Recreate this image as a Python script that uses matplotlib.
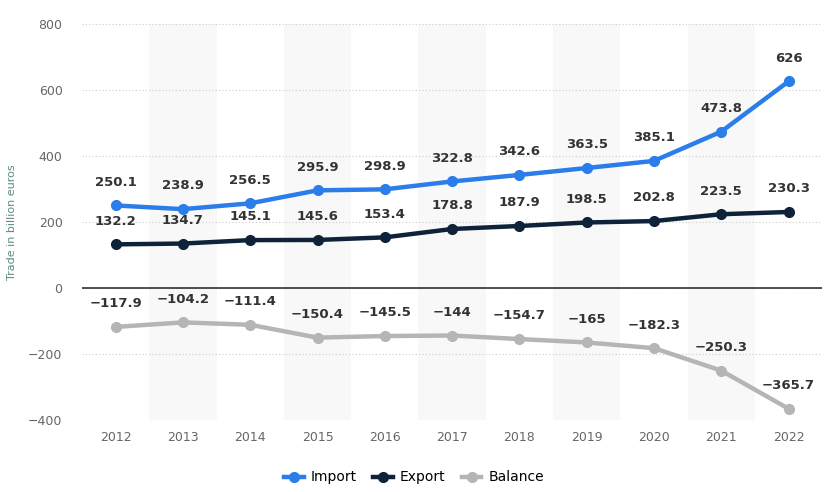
import matplotlib.pyplot as plt
from matplotlib.lines import Line2D

years = [2012, 2013, 2014, 2015, 2016, 2017, 2018, 2019, 2020, 2021, 2022]
imports = [250.1, 238.9, 256.5, 295.9, 298.9, 322.8, 342.6, 363.5, 385.1, 473.8, 626]
exports = [132.2, 134.7, 145.1, 145.6, 153.4, 178.8, 187.9, 198.5, 202.8, 223.5, 230.3]
balance = [-117.9, -104.2, -111.4, -150.4, -145.5, -144, -154.7, -165, -182.3, -250.3, -365.7]

c_imp = '#2b7de9'
c_exp = '#0e2239'
c_bal = '#b5b5b5'


def fmt(v):
    s = ('%g' % abs(v))
    return ('\u2212' + s) if v < 0 else s


fig = plt.figure(figsize=(8.28, 4.92), dpi=100)
ax = fig.add_axes([0.099, 0.1463, 0.894, 0.805])

# alternating column bands
for i, y in enumerate(years):
    if i % 2 == 1:
        ax.axvspan(y - 0.5, y + 0.5, color='#f8f8f8', zorder=0, lw=0)

ax.set_xlim(2011.5, 2022.5)
ax.set_ylim(-400, 800)
ax.set_yticks([-400, -200, 0, 200, 400, 600, 800])
ax.set_yticklabels([fmt(t) for t in [-400, -200, 0, 200, 400, 600, 800]])
ax.set_xticks(years)
ax.grid(axis='y', linestyle=(0, (1, 2)), color='#cccccc', lw=0.8, zorder=1)
ax.axhline(0, color='#333333', lw=1.2, zorder=2)
for s in ax.spines.values():
    s.set_visible(False)
ax.tick_params(length=0, colors='#666666', labelsize=9)
ax.tick_params(axis='x', pad=8)
ax.tick_params(axis='y', pad=14)
ax.set_ylabel('Trade in billion euros', color='#5d8a86', fontsize=8, labelpad=8)

for vals, col in [(imports, c_imp), (exports, c_exp), (balance, c_bal)]:
    ax.plot(years, vals, color=col, lw=3.2, marker='o', ms=7, zorder=3)
    for x, v in zip(years, vals):
        ax.annotate(fmt(v), (x, v), xytext=(0, 12), textcoords='offset points',
                    ha='center', va='bottom', fontsize=9.5, fontweight='bold',
                    color='#333333', zorder=4)

handles = [Line2D([0], [0], color=c, lw=3.2, marker='o', ms=7)
           for c in (c_imp, c_exp, c_bal)]
fig.legend(handles, ['Import', 'Export', 'Balance'], loc='lower center',
           bbox_to_anchor=(0.5, -0.01), ncol=3, frameon=False, fontsize=10,
           handlelength=1.4, columnspacing=1.2, handletextpad=0.5)

fig.savefig('out.png', dpi=100)
